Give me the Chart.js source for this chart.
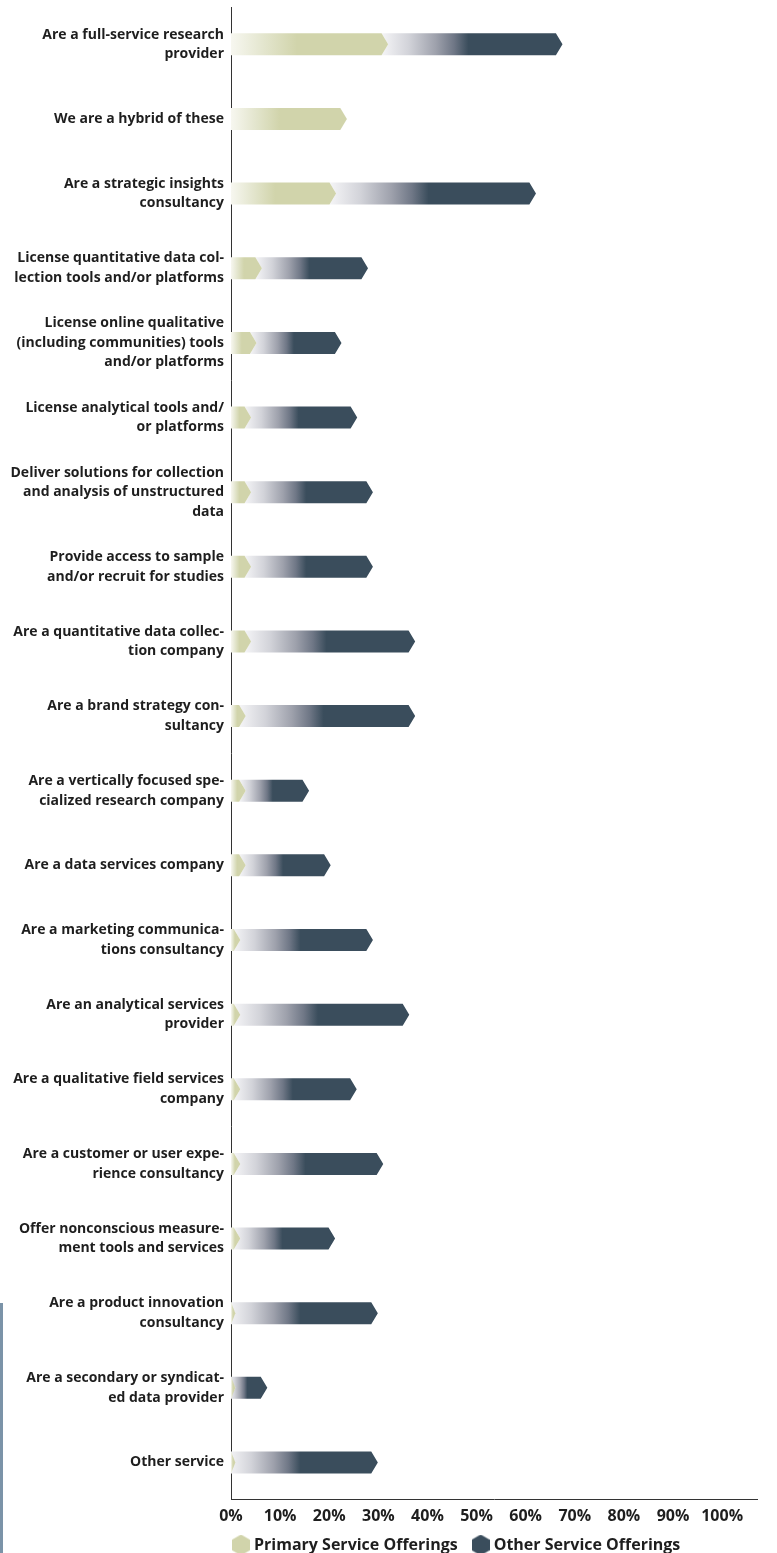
<!DOCTYPE html>
<html>
<head>
<meta charset="utf-8">
<script src="https://cdn.jsdelivr.net/npm/chart.js@4.4.1/dist/chart.umd.min.js"></script>
<style>
    html, body { margin: 0; padding: 0; background: #fff; }
    #wrap { position: relative; width: 777px; height: 1553px; }
    #strip { position: absolute; left: 0; top: 1303px; width: 3px; height: 250px; background: #7b93a8; }
</style>
</head>
<body>
<div id="wrap">
    <canvas id="serviceChart"></canvas>
    <div id="strip"></div>
</div>
<script>
// --- DATOS ---
const categories = [
    ['Are a full-service research', 'provider'],
    'We are a hybrid of these',
    ['Are a strategic insights', 'consultancy'],
    ['License quantitative data col-', 'lection tools and/or platforms'],
    ['License online qualitative', '(including communities) tools', 'and/or platforms'],
    ['License analytical tools and/', 'or platforms'],
    ['Deliver solutions for collection', 'and analysis of unstructured', 'data'],
    ['Provide access to sample', 'and/or recruit for studies'],
    ['Are a quantitative data collec-', 'tion company'],
    ['Are a brand strategy con-', 'sultancy'],
    ['Are a vertically focused spe-', 'cialized research company'],
    'Are a data services company',
    ['Are a marketing communica-', 'tions consultancy'],
    ['Are an analytical services', 'provider'],
    ['Are a qualitative field services', 'company'],
    ['Are a customer or user expe-', 'rience consultancy'],
    ['Offer nonconscious measure-', 'ment tools and services'],
    ['Are a product innovation', 'consultancy'],
    ['Are a secondary or syndicat-', 'ed data provider'],
    'Other service'
];

const primaryValues = [32.0, 23.6, 21.4, 6.3, 5.2, 4.1, 4.1, 4.1, 4.1, 3.0,
                       3.0, 3.0, 1.9, 1.9, 1.9, 1.9, 1.9, 0.9, 0.9, 0.9];

const otherValues = [35.5, 0, 40.7, 21.6, 17.3, 21.6, 24.8, 24.8, 33.4, 34.5,
                     12.9, 17.3, 27.0, 34.4, 23.7, 29.1, 19.3, 29.0, 6.5, 29.0];

const tickValues = [0, 10, 20, 30, 40, 50, 60, 70, 80, 90, 100];

const seriesNames = ['Primary Service Offerings', 'Other Service Offerings'];

// --- COLORES ---
const GREEN = '#d1d4ab';
const SLATE = '#3a4d5c';

// marcador hexagonal de la leyenda
function hexagon(color) {
    const c = document.createElement('canvas');
    c.width = 18;
    c.height = 21;
    const g = c.getContext('2d');
    g.fillStyle = color;
    g.beginPath();
    g.moveTo(9, 0);
    g.lineTo(18, 5.25);
    g.lineTo(18, 15.75);
    g.lineTo(9, 21);
    g.lineTo(0, 15.75);
    g.lineTo(0, 5.25);
    g.closePath();
    g.fill();
    return c;
}
const legendMarks = [hexagon(GREEN), hexagon(SLATE)];

// barras con punta de flecha y degradado
const arrowBars = {
    id: 'arrowBars',
    beforeDatasetDraw() {
        return false; // no dibujar el rectángulo por defecto
    },
    afterDatasetsDraw(chart) {
        const ctx = chart.ctx;
        const area = chart.chartArea;
        ctx.save();
        ctx.beginPath();
        ctx.rect(area.left, area.top, area.right - area.left, area.bottom - area.top);
        ctx.clip();

        [1, 0].forEach(di => {
            chart.getDatasetMeta(di).data.forEach(el => {
                const p = el.getProps(['x', 'y', 'base', 'height'], true);
                if (p.x - p.base < 0.5) return;
                const h = p.height;
                const d = h * 0.3;
                const top = p.y - h / 2;
                const bot = p.y + h / 2;
                const left = di === 1 ? p.base - d : p.base;
                const sh = Math.max(left, p.x - d);

                const grad = ctx.createLinearGradient(left, 0, p.x, 0);
                if (di === 0) {
                    grad.addColorStop(0, '#f7f7f0');
                    grad.addColorStop(0.2, '#e4e6cf');
                    grad.addColorStop(0.42, GREEN);
                    grad.addColorStop(1, GREEN);
                } else {
                    grad.addColorStop(0, '#f5f5f7');
                    grad.addColorStop(0.15, '#d2d3d9');
                    grad.addColorStop(0.3, '#9ea1ac');
                    grad.addColorStop(0.4, '#6f7786');
                    grad.addColorStop(0.48, SLATE);
                    grad.addColorStop(1, SLATE);
                }

                ctx.fillStyle = grad;
                ctx.beginPath();
                ctx.moveTo(left, top);
                ctx.lineTo(sh, top);
                ctx.lineTo(p.x, p.y);
                ctx.lineTo(sh, bot);
                ctx.lineTo(left, bot);
                if (di === 1) ctx.lineTo(p.base, p.y);
                ctx.closePath();
                ctx.fill();
            });
        });
        ctx.restore();
    }
};

// colocar la leyenda bajo el eje, alineada con el 0%
const legendShift = {
    id: 'legendShift',
    afterLayout(chart) {
        const lg = chart.legend;
        lg.left -= 13;
        lg.right -= 13;
        lg.top -= 14;
        lg.bottom -= 14;
    }
};

const ctx = document.getElementById('serviceChart');
new Chart(ctx, {
    type: 'bar',
    data: {
        labels: categories,
        datasets: [{
            label: seriesNames[0],
            data: primaryValues,
            backgroundColor: GREEN,
            barThickness: 22
        }, {
            label: seriesNames[1],
            data: otherValues,
            backgroundColor: SLATE,
            barThickness: 22
        }]
    },
    options: {
        indexAxis: 'y',
        responsive: true,
        maintainAspectRatio: false,
        animation: false,
        layout: {
            padding: { top: 7, right: 20, bottom: -24, left: 0 }
        },
        scales: {
            x: {
                stacked: true,
                min: 0,
                max: 107.1,
                afterBuildTicks: axis => {
                    axis.ticks = tickValues.map(v => ({ value: v }));
                },
                grid: { display: false, drawTicks: false },
                border: { display: true, color: '#333', width: 1 },
                ticks: {
                    padding: 7,
                    maxRotation: 0,
                    color: '#1e1e1e',
                    font: { family: 'Open Sans', size: 16, weight: 'bold' },
                    callback: v => v + '%'
                }
            },
            y: {
                stacked: true,
                grid: { display: false, drawTicks: false },
                border: { display: true, color: '#333', width: 1 },
                afterFit: scale => {
                    scale.width = 231;
                    scale.paddingTop = 0;
                    scale.paddingBottom = 0;
                },
                ticks: {
                    padding: 7,
                    color: '#1e1e1e',
                    font: { family: 'Open Sans', size: 14, weight: 'bold', lineHeight: 1.4 }
                }
            }
        },
        plugins: {
            tooltip: { enabled: false },
            legend: {
                position: 'bottom',
                align: 'start',
                fullSize: false,
                labels: {
                    usePointStyle: true,
                    pointStyleWidth: 10,
                    padding: 18,
                    color: '#1e1e1e',
                    font: { family: 'Open Sans', size: 16, weight: 'bold' },
                    generateLabels: chart => {
                        const items = Chart.defaults.plugins.legend.labels.generateLabels(chart);
                        items.forEach((it, i) => { it.pointStyle = legendMarks[i]; });
                        return items;
                    }
                }
            }
        }
    },
    plugins: [arrowBars, legendShift]
});
</script>
</body>
</html>
